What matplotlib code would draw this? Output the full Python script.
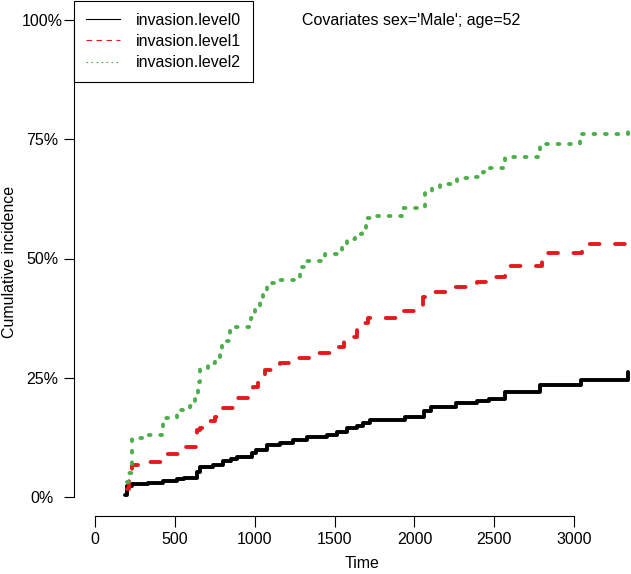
import matplotlib
matplotlib.use('Agg')
import matplotlib.pyplot as plt
from matplotlib.lines import Line2D

plt.rcParams['font.family'] = ['Liberation Sans', 'DejaVu Sans']
plt.rcParams['font.size'] = 11.5

# step curves (time, cumulative incidence in %)
time_l0 = [188, 200, 230, 330, 427, 511, 560, 636, 657, 741, 803, 850, 887, 981, 1010,
           1075, 1158, 1242, 1325, 1450, 1513, 1576, 1638, 1680, 1722, 1941, 2062, 2104,
           2261, 2390, 2469, 2567, 2787, 3043, 3340]
inc_l0 = [0.5, 2.2, 2.7, 2.9, 3.4, 3.7, 3.9, 5.3, 6.2, 6.7, 7.5, 8.0, 8.4, 9.3, 9.8,
          10.9, 11.3, 11.9, 12.5, 13.0, 13.7, 14.4, 14.9, 15.4, 16.1, 16.8, 18.0, 18.9,
          19.7, 20.1, 20.5, 21.9, 23.5, 24.5, 26.3]

time_l1 = [198, 215, 230, 310, 420, 449, 540, 636, 660, 699, 751, 803, 887, 991, 1020,
           1065, 1100, 1158, 1263, 1367, 1492, 1560, 1597, 1640, 1680, 1710, 1931, 2056,
           2070, 2244, 2390, 2450, 2567, 2797, 3047, 3340]
inc_l1 = [1.6, 3.4, 6.7, 7.3, 8.3, 9.1, 10.5, 14.0, 14.5, 16.0, 16.7, 18.6, 20.7, 23.1, 24.5,
          26.6, 27.5, 28.0, 29.1, 30.2, 31.5, 32.5, 33.6, 35.0, 36.4, 37.5, 38.9, 42.0,
          42.9, 44.1, 45.1, 46.1, 48.5, 51.1, 53.0, 55.6]

time_l2 = [198, 215, 230, 302, 417, 428, 511, 595, 626, 645, 657, 710, 751, 780, 793, 845,
           877, 975, 1002, 1030, 1050, 1075, 1138, 1284, 1325, 1440, 1545, 1576, 1628,
           1670, 1697, 1743, 1931, 2066, 2108, 2160, 2264, 2380, 2432, 2470, 2567, 2787,
           3037, 3340]
inc_l2 = [3.2, 5.0, 12.3, 13.0, 14.0, 16.5, 18.2, 19.1, 20.7, 24.0, 26.8, 28.0, 29.4, 31.0,
          32.6, 34.7, 35.7, 37.5, 39.3, 41.0, 42.3, 44.8, 45.5, 48.3, 49.5, 50.9, 52.5,
          54.0, 55.1, 56.3, 58.4, 58.9, 60.5, 63.7, 64.7, 65.6, 66.8, 67.0, 68.2, 68.9,
          71.3, 74.1, 76.2, 77.2]

labels = ['invasion.level0', 'invasion.level1', 'invasion.level2']
colors = ['black', '#E41A1C', '#4DAF4A']
x_ticks = [0, 500, 1000, 1500, 2000, 2500, 3000]
y_ticks = [0, 25, 50, 75, 100]
y_ticklabels = ['0%', '25%', '50%', '75%', '100%']

fig = plt.figure(figsize=(6.31, 5.74), dpi=100)
ax = fig.add_axes([74 / 631, 58 / 574, 577 / 631, 515 / 574])

lw = 2.8
ax.plot(time_l0, inc_l0, drawstyle='steps-post', color=colors[0], lw=lw,
        solid_capstyle='round')
ax.plot(time_l1, inc_l1, drawstyle='steps-post', color=colors[1], lw=lw,
        linestyle=(0, (2.5, 4.0)), dash_capstyle='round')
ax.plot(time_l2, inc_l2, drawstyle='steps-post', color=colors[2], lw=lw,
        linestyle=(0, (0.45, 2.5)), dash_capstyle='round')

ax.set_xlim(-131.5, 3481)
ax.set_ylim(-4, 104)

ax.spines['top'].set_visible(False)
ax.spines['right'].set_visible(False)
ax.spines['left'].set_bounds(0, 100)
ax.spines['bottom'].set_bounds(0, 3000)
for s in ['left', 'bottom']:
    ax.spines[s].set_linewidth(0.8)

ax.set_xticks(x_ticks)
ax.set_yticks(y_ticks)
ax.set_yticklabels(y_ticklabels, ha='center')
ax.tick_params(axis='x', length=7.6, width=0.8, pad=3.6, labelsize=11.5)
ax.tick_params(axis='y', length=7.2, width=0.8, pad=15.8, labelsize=11.5)

fig.text(10 / 631, 1 - 262 / 574, 'Cumulative incidence', rotation=90,
         ha='center', va='center', fontsize=11.5)
fig.text(362.5 / 631, 1 - 564 / 574, 'Time', ha='center', va='center', fontsize=11.5)
fig.text(302 / 631, 1 - 25 / 574, "Covariates sex='Male'; age=52", ha='left',
         va='baseline', fontsize=11.5)

handles = [
    Line2D([], [], color=colors[0], lw=0.8),
    Line2D([], [], color=colors[1], lw=0.8, linestyle=(0, (5, 4))),
    Line2D([], [], color=colors[2], lw=0.8, linestyle=(0, (1.5, 3))),
]
leg = ax.legend(handles, labels, loc='upper left', bbox_to_anchor=(0, 1),
                borderaxespad=0, fancybox=False, framealpha=1, edgecolor='black',
                borderpad=0.75, handlelength=2.1, handletextpad=1.0,
                labelspacing=0.38, fontsize=11.5)
leg.get_frame().set_linewidth(0.8)

fig.savefig('out.png', dpi=100)
